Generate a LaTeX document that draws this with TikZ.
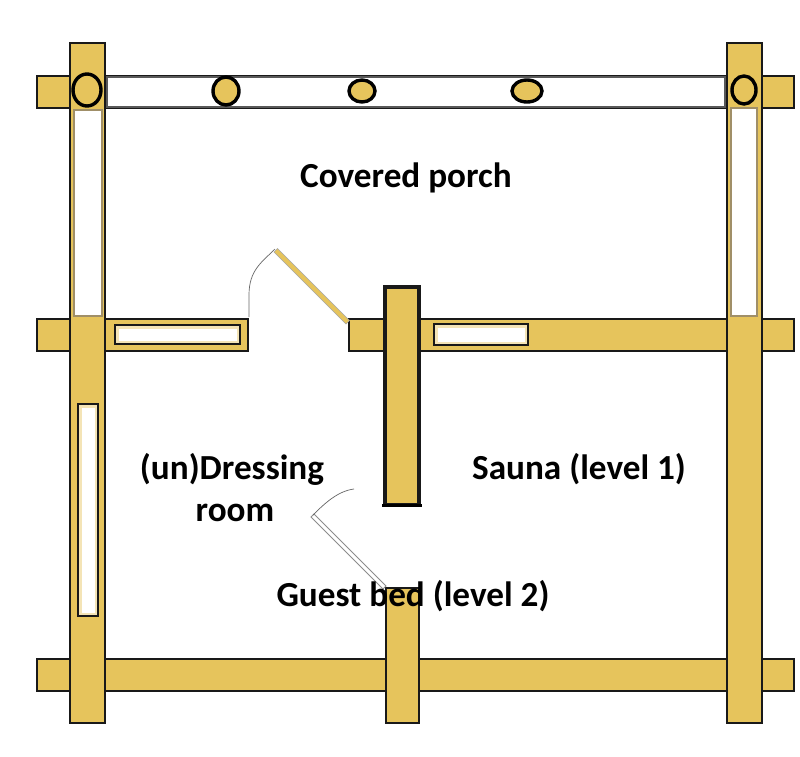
\documentclass[tikz,border=0pt]{standalone}
\usepackage{fontspec}
\setmainfont{Carlito}
\definecolor{timber}{HTML}{E6C45C}
\definecolor{paneline}{HTML}{A08F68}
\tikzset{wall/.style={draw=black!90, line width=2.8pt, fill=timber},
 pane/.style={draw=black!90, line width=2.6pt, fill=timber!45},
 thinpane/.style={draw=paneline, line width=1.4pt, fill=white},
 peg/.style={draw=black, line width=3.4pt, fill=timber},
 swing/.style={draw=black!60, line width=.7pt},
 room/.style={font=\bfseries\fontsize{35.2}{42}\selectfont, inner sep=0pt},
 }

\begin{document}
\begin{tikzpicture}[x=1pt, y=-1pt]
        \useasboundingbox (0, 0) rectangle (800, 756);
        \fill[white] (0, 0) rectangle (800, 756);

        % beams
        \draw[wall] (37, 76) rectangle (794, 108);
        \draw[wall] (37, 319) rectangle (248, 351);
        \draw[wall] (349, 319) rectangle (794, 351);
        \draw[wall] (37, 659) rectangle (794, 691);

        % posts
        \draw[wall] (70, 43) rectangle (105, 723);
        \draw[wall] (727, 43) rectangle (762, 723);
        \draw[wall] (386, 588) rectangle (419, 723);
        \draw[wall, line width=4pt] (385, 287) rectangle (419, 505);
        \draw[black, line width=3pt] (382, 505) -- (422, 505);

        % windows
        \draw[draw=black!65, line width=2.6pt, fill=white] (107, 77) rectangle (725, 107);
        \draw[thinpane] (74, 110) rectangle (102, 316);
        \draw[thinpane] (731, 108) rectangle (757, 316);
        \foreach \xa/\ya/\xb/\yb in {115/325/240/344, 434/324/528/345, 78/404/98/616} {
                \draw[pane] (\xa, \ya) rectangle (\xb, \yb);
                \fill[white] (\xa + 3.5, \ya + 3.5) rectangle (\xb - 3.5, \yb - 3.5);
        }

        \foreach \cx/\cy/\rx/\ry in {87/90/14/16, 226/91/13/14, 362/91/13/11, 527/91/15/11, 744/90/12/14}
                \draw[peg] (\cx, \cy) ellipse ({\rx} and {\ry});

        % doors
        \draw[draw=black!35, line width=.4pt, fill=timber] (349.5, 320.5) -- (346, 324) -- (274, 252) -- (277.5, 248.5) -- cycle;
        \draw[swing] (275, 249) .. controls (262, 262) and (249, 270) .. (249, 295) -- (249, 317);
        \draw[draw=black!45, line width=1pt, fill=white] (386, 586) -- (383, 589) -- (311, 517) -- (314, 514) -- cycle;
        \draw[swing] (313, 515) .. controls (325, 503) and (338, 491) .. (354, 489);

        \node[room] (porch) at (406, 178) {Covered porch};
        \node[room] (dressing) at (232, 469) {(un)Dressing};
        \node[room] (dressingb) at (235, 513) {room};
        \node[room] (sauna) at (579, 469) {Sauna (level 1)};
        \node[room] (guest) at (413, 596) {Guest bed (level 2)};
\end{tikzpicture}
\end{document}
